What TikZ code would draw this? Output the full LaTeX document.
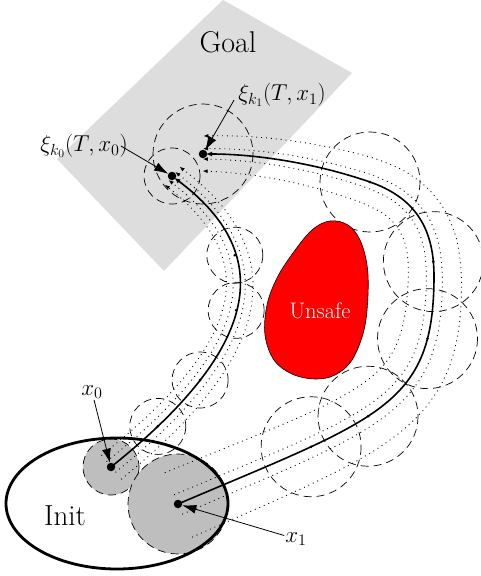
\RequirePackage{fix-cm}
\documentclass[tikz,border=0pt]{standalone}
\usetikzlibrary{calc,arrows.meta}
\definecolor{goalgray}{RGB}{221,221,221}
\definecolor{initgray}{RGB}{190,190,190}
\tikzset{
  traj/.style={line width=1.6pt, -{Latex[length=6pt,width=5pt]}, shorten >=3pt},
  simline/.style={line width=0.9pt, dash pattern=on 0.9pt off 4pt, -{Latex[length=5pt,width=4pt]}},
  tubecircle/.style={dash pattern=on 8pt off 5pt, line width=0.7pt},
  initball/.style={fill=initgray, dash pattern=on 8pt off 5pt, line width=0.7pt},
  statedot/.style={circle, fill, inner sep=0pt, minimum size=8.5pt},
  sampledot/.style={circle, fill, inner sep=0pt, minimum size=3pt},
  labelarrow/.style={line width=0.8pt, -{Latex[length=14pt,width=9pt]}},
  lbl/.style={font=\fontsize{23}{28}\selectfont, inner sep=1pt},
}
% point on a cubic Bezier by de Casteljau: #1 name, #2 t, #3-#6 control points
\newcommand\bezpt[6]{%
  \coordinate (q1) at ($(#3)!#2!(#4)$);
  \coordinate (q2) at ($(#4)!#2!(#5)$);
  \coordinate (q3) at ($(#5)!#2!(#6)$);
  \coordinate (r1) at ($(q1)!#2!(q2)$);
  \coordinate (r2) at ($(q2)!#2!(q3)$);
  \coordinate (#1) at ($(r1)!#2!(r2)$);}
% sample a Bezier segment: #1 prefix, #2 first index, #3 intervals, #4-#7 control points
\newcommand\bezseg[7]{%
  \foreach \m in {0,...,#3}{%
    \pgfmathsetmacro\bzt{\m/#3}%
    \pgfmathtruncatemacro\idx{#2+\m}%
    \bezpt{#1\idx}{\bzt}{#4}{#5}{#6}{#7}}}
% offset copies: #1 prefix, #2 n, #3 k/d list, #4 shrink
\newcommand\offsets[4]{%
  \foreach \k/\d in {#3}{%
    \foreach \i in {1,...,#2}{%
      \pgfmathsetmacro\dd{\d*(1-#4*(\i-1)/(#2-1))}%
      \pgfmathtruncatemacro\j{\i+1}%
      \coordinate (#1\k\i) at ($(#1\i)!\dd pt!90:(#1\j)$);}}}
% dotted simulated trajectory through #1 1..#2
\newcommand\simcurve[2]{%
  \gdef\lst{}%
  \foreach \i in {1,...,#2}{\xdef\lst{\lst(#1\i)}}%
  \edef\tmp{\noexpand\draw[simline] plot[smooth,tension=0.5] coordinates {\lst};}\tmp}
\begin{document}
\begin{tikzpicture}[x=1pt,y=-1pt]
\useasboundingbox (0,0) rectangle (480,576);
% goal region
\path[fill=goalgray] (223,0) -- (352,73) -- (164,271) -- (57,159) -- cycle;
\node[font=\fontsize{30}{36}\selectfont, inner sep=0pt] (goal) at (228,42) {Goal};

% control points of the two trajectories
\coordinate (a0) at (111,467); \coordinate (a1) at (270,340);
\coordinate (a2) at (270,250); \coordinate (a3) at (172,176);
\coordinate (b0) at (178,504); \coordinate (b1) at (380,418);
\coordinate (b2) at (434,406); \coordinate (b3) at (434,276);
\coordinate (b4) at (434,226); \coordinate (b5) at (413,197);
\coordinate (b6) at (370,182); \coordinate (b7) at (318,164);
\coordinate (b8) at (258,154); \coordinate (b9) at (203,154);

% samples
\bezseg{A}{1}{16}{a0}{a1}{a2}{a3}
\coordinate (A18) at ($(A17)!-1!(A16)$);
\bezseg{B}{1}{12}{b0}{b1}{b2}{b3}
\bezseg{B}{13}{5}{b3}{b4}{b5}{b6}
\bezseg{B}{18}{8}{b6}{b7}{b8}{b9}
\coordinate (B27) at ($(B26)!-1!(B25)$);
\offsets{A}{17}{a/-16,b/-7,c/7,d/15}{0.25}
\offsets{B}{26}{a/-36,b/-11,c/10,d/34}{0.5}

% sample points on the trajectories
\bezpt{sa1}{0.11}{a0}{a1}{a2}{a3}
\bezpt{sa2}{0.245}{a0}{a1}{a2}{a3}
\bezpt{sa3}{0.47}{a0}{a1}{a2}{a3}
\bezpt{sa4}{0.67}{a0}{a1}{a2}{a3}
\bezpt{sb1}{0.27}{b0}{b1}{b2}{b3}
\bezpt{sb2}{0.445}{b0}{b1}{b2}{b3}
\bezpt{sb3}{0.81}{b0}{b1}{b2}{b3}
\bezpt{sb4}{0.1}{b3}{b4}{b5}{b6}
\coordinate (sb5) at (b6);

% initial balls
\draw[initball] (a0) circle [radius=28];
\draw[initball] (b0) circle [radius=50];

% Init set
\draw[line width=2.8pt] (117,503.5) ellipse [x radius=111, y radius=65.5];
\node[font=\fontsize{29}{34}\selectfont, inner sep=0pt] (init) at (65,516) {Init};

% reach tube circles
\foreach \c in {sa1,sa2,sa3,sa4,a3} \draw[tubecircle] (\c) circle [radius=28];
\foreach \c in {sb1,sb2,sb3,sb4,sb5,b9} \draw[tubecircle] (\c) circle [radius=50];

% simulated trajectories
\simcurve{Aa}{17}\simcurve{Ab}{17}\simcurve{Ac}{17}\simcurve{Ad}{17}
\simcurve{Ba}{26}\simcurve{Bb}{26}\simcurve{Bc}{26}\simcurve{Bd}{26}

% main trajectories
\draw[traj] (a0) .. controls (a1) and (a2) .. (a3);
\draw[traj] (b0) .. controls (b1) and (b2) .. (b3) .. controls (b4) and (b5) .. (b6) .. controls (b7) and (b8) .. (b9);

% unsafe set
\draw[fill=red, line width=0.6pt] plot[smooth cycle, tension=0.6] coordinates {(330,221) (348,225) (360,240) (367,265) (368,295) (364,330) (352,360) (335,375) (315,379) (292,374) (274,360) (265,335) (267,305) (277,278) (293,253) (312,230)};
\node[text=white, font=\fontsize{22.5}{27}\selectfont, inner sep=0pt] (unsafe) at (320,311) {Unsafe};

% sample dots
\foreach \c in {sa1,sa2,sa3,sa4,sb1,sb2,sb3,sb4,sb5} \node[sampledot] at (\c) {};

% state dots
\node[statedot] (s0) at (a0) {};
\node[statedot] (s1) at (b0) {};
\node[statedot] (e0) at (a3) {};
\node[statedot] (e1) at (b9) {};

% labels
\node[lbl] (lx0) at (92,392) {$x_0$};
\node[lbl] (lx1) at (296,539) {$x_1$};
\node[lbl] (lk1) at (282,95) {$\xi_{k_1}(T,x_1)$};
\node[lbl] (lk0) at (84,146) {$\xi_{k_0}(T,x_0)$};
\draw[labelarrow] (lx0) -- (s0);
\draw[labelarrow] (lx1) -- (s1);
\draw[labelarrow] ($(lk1.west)+(-3,5)$) -- (e1);
\draw[labelarrow] ($(lk0.east)+(-8,0)$) -- (e0);
\end{tikzpicture}
\end{document}
